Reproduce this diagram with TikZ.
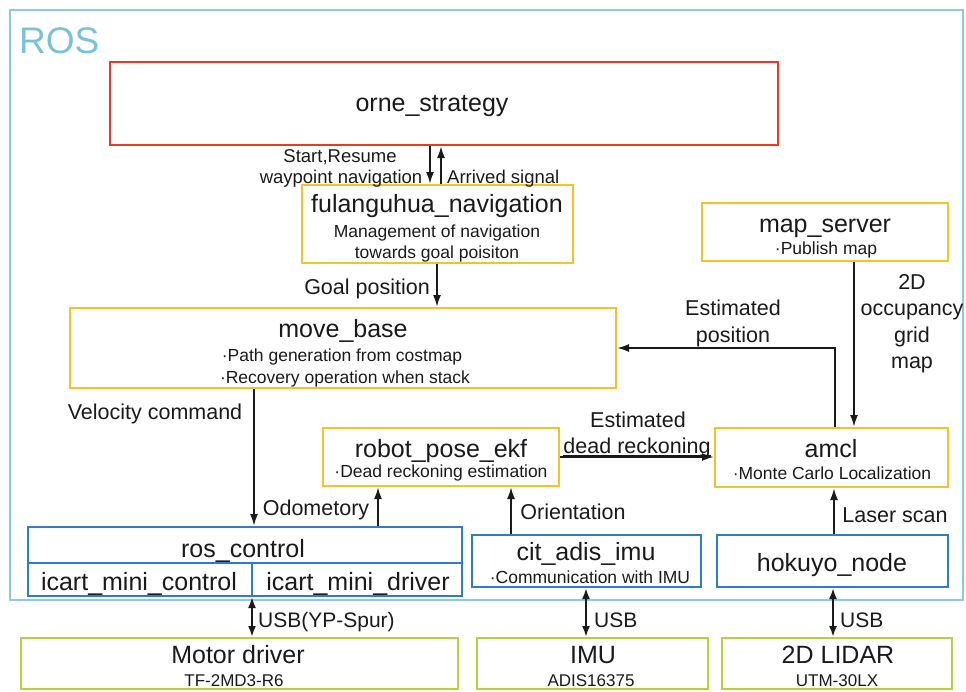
\documentclass[tikz,border=0pt]{standalone}
\usepackage{fontspec}
\setmainfont{Liberation Sans}
\usetikzlibrary{arrows.meta}
\definecolor{rosframe}{HTML}{8DC8EA}
\definecolor{rostext}{HTML}{7CC0DC}
\definecolor{redc}{HTML}{E8392B}
\definecolor{yelc}{HTML}{F4C22B}
\definecolor{bluec}{HTML}{2D7DC8}
\definecolor{grnc}{HTML}{B9CF3B}
\definecolor{ink}{HTML}{1A1A1A}
\newcommand\fsz[1]{\fontsize{#1}{#1}\selectfont}
\begin{document}
\begin{tikzpicture}[x=1pt,y=-1pt,
  boxs/.style={draw, line width=2pt, inner sep=0pt},
  rbox/.style={boxs, draw=redc},
  ybox/.style={boxs, draw=yelc},
  bbox/.style={boxs, draw=bluec},
  gbox/.style={boxs, draw=grnc},
  lbl/.style={inner sep=0pt, anchor=base, text=ink},
  ttl/.style={lbl, font=\fsz{25}},
  subt/.style={lbl, font=\fsz{17.5}},
  lab/.style={lbl, font=\fsz{21.5}},
  tlab/.style={lbl, font=\fsz{18.5}},
  usb/.style={lbl, font=\fsz{21}, anchor=base west},
  bsub/.style={lbl, font=\fsz{17}},
  arr/.style={-{Latex[length=12pt,width=8pt]}, line width=2pt, ink},
  darr/.style={{Latex[length=11pt,width=8pt]}-{Latex[length=11pt,width=8pt]}, line width=2pt, ink}
]
\useasboundingbox (0,0) rectangle (966,691);

% ROS frame
\node[boxs, draw=rosframe, minimum width=953pt, minimum height=590pt] (ros) at (486.5,305) {};
\node[lbl, font=\fsz{37}, text=rostext, anchor=base west] (roslbl) at (19,53) {ROS};

% boxes
\node[rbox, minimum width=668pt, minimum height=83pt] (orne) at (444,103.5) {};
\node[ybox, minimum width=271pt, minimum height=78pt] (fn) at (437.5,224) {};
\node[ybox, minimum width=546pt, minimum height=80pt] (mb) at (343,348) {};
\node[ybox, minimum width=246pt, minimum height=58pt] (ms) at (825,232) {};
\node[ybox, minimum width=236pt, minimum height=58pt] (ekf) at (441,457) {};
\node[ybox, minimum width=233pt, minimum height=59pt] (amcl) at (831.5,457.5) {};
\node[bbox, minimum width=434pt, minimum height=69pt] (rc) at (245,561.5) {};
\node[bbox, minimum width=229pt, minimum height=52pt] (cit) at (586.5,561) {};
\node[bbox, minimum width=231pt, minimum height=52pt] (hok) at (832.5,561) {};
\node[gbox, minimum width=437pt, minimum height=51pt] (md) at (239.5,663.5) {};
\node[gbox, minimum width=231pt, minimum height=51pt] (imu) at (592.5,663.5) {};
\node[gbox, minimum width=230pt, minimum height=51pt] (lidar) at (837,663.5) {};

% ros_control dividers
\coordinate (rcdiv) at (252,563);
\draw[bluec, line width=2pt] (rc.west |- rcdiv) -- (rc.east |- rcdiv);
\draw[bluec, line width=2pt] (rcdiv) -- (rcdiv |- rc.south);

% box texts
\node[ttl] (orneT) at (432,111) {orne\_strategy};
\node[ttl] (fnT) at (437,212) {fulanguhua\_navigation};
\node[subt] (fnS1) at (437,237) {Management of navigation};
\node[subt] (fnS2) at (437,258) {towards goal poisiton};
\node[ttl] (mbT) at (343,337) {move\_base};
\node[subt] (mbS1) at (342,361) {·Path generation from costmap};
\node[subt] (mbS2) at (345,383) {·Recovery operation when stack};
\node[ttl] (msT) at (825,232) {map\_server};
\node[subt] (msS) at (826,254) {·Publish map};
\node[ttl] (ekfT) at (441,457) {robot\_pose\_ekf};
\node[subt] (ekfS) at (441,477.5) {·Dead reckoning estimation};
\node[ttl] (amclT) at (831,457) {amcl};
\node[subt] (amclS) at (832,479) {·Monte Carlo Localization};
\node[ttl] (rcT) at (243,557) {ros\_control};
\node[ttl] (rcL) at (139,590) {icart\_mini\_control};
\node[ttl] (rcR) at (358,590) {icart\_mini\_driver};
\node[ttl] (citT) at (586,560) {cit\_adis\_imu};
\node[subt] (citS) at (590,583) {·Communication with IMU};
\node[ttl] (hokT) at (832,571) {hokuyo\_node};
\node[ttl] (mdT) at (238,663) {Motor driver};
\node[bsub] (mdS) at (234,686) {TF-2MD3-R6};
\node[ttl] (imuT) at (593,663) {IMU};
\node[bsub] (imuS) at (591,686) {ADIS16375};
\node[ttl] (lidarT) at (838,663) {2D LIDAR};
\node[bsub] (lidarS) at (837,686) {UTM-30LX};

% helper x positions
\coordinate (xA) at (430,0);
\coordinate (xB) at (441,0);
\coordinate (xG) at (437,0);
\coordinate (xM) at (854,0);
\coordinate (xE) at (835,0);
\coordinate (xV) at (254,0);
\coordinate (xO) at (378,0);
\coordinate (xI) at (511,0);
\coordinate (xL) at (834,0);
\coordinate (xU1) at (252,0);
\coordinate (xU2) at (586,0);
\coordinate (xU3) at (833,0);

% connectors
\draw[arr] (orne.south -| xA) -- (fn.north -| xA);
\draw[arr] (fn.north -| xB) -- (orne.south -| xB);
\draw[arr] (fn.south -| xG) -- (mb.north -| xG);
\draw[arr] (ms.south -| xM) -- (amcl.north -| xM);
\draw[arr] (amcl.north -| xE) |- (mb.east);
\draw[arr] (ekf.east) -- (ekf.east -| amcl.west);
\draw[arr] (mb.south -| xV) -- (rc.north -| xV);
\draw[arr] (rc.north -| xO) -- (ekf.south -| xO);
\draw[arr] (cit.north -| xI) -- (ekf.south -| xI);
\draw[arr] (hok.north -| xL) -- (amcl.south -| xL);
\draw[darr] (rc.south -| xU1) -- (md.north -| xU1);
\draw[darr] (cit.south -| xU2) -- (imu.north -| xU2);
\draw[darr] (hok.south -| xU3) -- (lidar.north -| xU3);

% connector labels
\node[tlab] (lStart) at (340,162) {Start,Resume};
\node[tlab] (lWay) at (341,183) {waypoint navigation};
\node[tlab, anchor=base west] (lArr) at (447,183) {Arrived signal};
\node[lab] (lGoal) at (367,294) {Goal position};
\node[lab] (lOcc1) at (912,289) {2D};
\node[lab] (lOcc2) at (912,315) {occupancy};
\node[lab] (lOcc3) at (912,342) {grid};
\node[lab] (lOcc4) at (912,368) {map};
\node[lab] (lEp1) at (733,315) {Estimated};
\node[lab] (lEp2) at (733,342) {position};
\node[lab] (lEd1) at (638,427) {Estimated};
\node[lab] (drT) at (637,453) {dead reckoning};
\draw[line width=1pt, ink] ([yshift=-2.5pt]drT.base west) -- ([yshift=-2.5pt]drT.base east);
\node[lab] (lVel) at (155,419) {Velocity command};
\node[lab] (lOdo) at (316,515) {Odometory};
\node[lab] (lOri) at (573,519) {Orientation};
\node[lab] (lLas) at (895,522) {Laser scan};
\node[usb] (lU1) at (258,627) {USB(YP-Spur)};
\node[usb] (lU2) at (594,627) {USB};
\node[usb] (lU3) at (840,627) {USB};
\end{tikzpicture}
\end{document}
